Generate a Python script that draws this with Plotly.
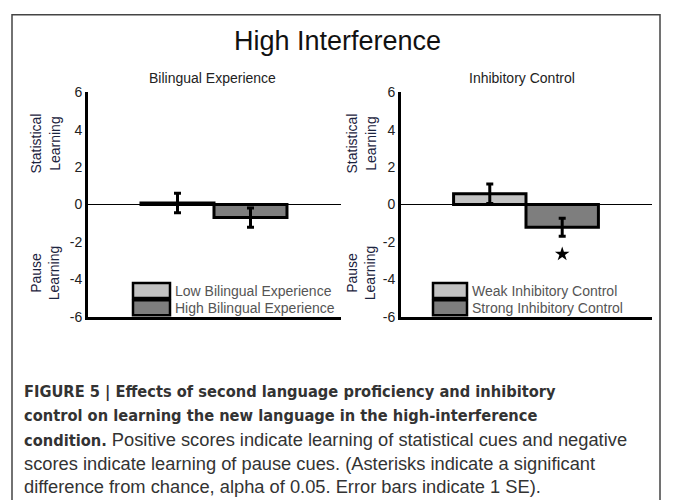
import plotly.graph_objects as go

# ---------------- data ----------------
panel_titles = ["Bilingual Experience", "Inhibitory Control"]
left_groups = ["Low Bilingual Experience", "High Bilingual Experience"]
left_values = [0.08, -0.70]
left_errors = [0.52, 0.52]
right_groups = ["Weak Inhibitory Control", "Strong Inhibitory Control"]
right_values = [0.58, -1.22]
right_errors = [0.52, 0.48]
right_significant = [False, True]
y_ticks = [-6, -4, -2, 0, 2, 4, 6]
y_tick_labels = ["-6", "-4", "-2", "0", "2", "4", "6"]
bar_colors = ["#c2c2c2", "#7e7e7e"]

W, H = 673, 500
def px(x):
    return x / W
def py(y):
    return 1 - y / H

fig = go.Figure()

# bars
for xa, ya, groups, vals, errs in [("x", "y", left_groups, left_values, left_errors),
                                   ("x2", "y2", right_groups, right_values, right_errors)]:
    for i, (g, v, e) in enumerate(zip(groups, vals, errs)):
        fig.add_trace(go.Bar(
            x=[i], y=[v], width=1, name=g, xaxis=xa, yaxis=ya,
            marker=dict(color=bar_colors[i], line=dict(color="black", width=3)),
            error_y=dict(type="data", array=[e], visible=True, color="black",
                         thickness=3, width=3.5),
            showlegend=False,
        ))

# significance star
star_x = [i for i, s in enumerate(right_significant) if s]
star_y = [right_values[i] - right_errors[i] - 0.95 for i in star_x]
fig.add_trace(go.Scatter(x=star_x, y=star_y, xaxis="x2", yaxis="y2", mode="markers",
                         marker=dict(symbol="star", size=11, color="black"),
                         showlegend=False, hoverinfo="skip"))

font = "Liberation Sans, Arial, sans-serif"
yax = dict(range=[-6, 6], tickvals=y_ticks, ticktext=y_tick_labels, ticks="", showgrid=False,
           showline=True, linecolor="black", linewidth=3,
           zeroline=True, zerolinecolor="black", zerolinewidth=1,
           tickfont=dict(size=14, color="#222", family=font), fixedrange=True)
xax = dict(range=[-1.226, 2.24], showticklabels=False, ticks="", showgrid=False,
           showline=True, linecolor="black", linewidth=3, zeroline=False,
           fixedrange=True)

fig.update_layout(
    width=W, height=H, margin=dict(l=0, r=0, t=0, b=0),
    paper_bgcolor="white", plot_bgcolor="white",
    xaxis=dict(domain=[px(88), px(341)], anchor="y", **xax),
    yaxis=dict(domain=[py(319), py(87)], anchor="x", **yax),
    xaxis2=dict(domain=[px(401), px(652)], anchor="y2", **xax),
    yaxis2=dict(domain=[py(319), py(87)], anchor="x2", **yax),
    barmode="overlay",
    font=dict(family=font),
)

def note(text, x, y, size, color, xanchor="center", family=font, **kw):
    return dict(text=text, x=px(x), y=py(y), xref="paper", yref="paper",
                xanchor=xanchor, yanchor="middle", showarrow=False,
                font=dict(size=size, color=color, family=family), **kw)

ann = []
ann.append(note("High Interference", 337, 34, 27, "#111"))
for t, cx in zip(panel_titles, [212, 522]):
    ann.append(note(t, cx, 72, 14, "#222"))
for cx in [45, 361]:
    ann.append(note("Statistical<br>Learning", cx, 140, 14, "#1c2440", textangle=-90))
    ann.append(note("Pause<br>Learning", cx, 274, 14, "#1c2440", textangle=-90))

shapes = []
for groups, bx0, bx1 in [(left_groups, 133, 170), (right_groups, 433, 467)]:
    for i, g in enumerate(groups):
        y0 = 284 + i * 18
        shapes.append(dict(type="rect", xref="paper", yref="paper",
                           x0=px(bx0), x1=px(bx1), y0=py(y0), y1=py(y0 + 15.5),
                           fillcolor=bar_colors[i], line=dict(color="black", width=2.5)))
        ann.append(note(g, bx1 + 3, y0 + 8, 14, "#555", xanchor="left"))

# outer frame (open at bottom)
shapes.append(dict(type="path", xref="paper", yref="paper",
                   path=f"M {px(12)} {py(520)} L {px(12)} {py(7)} L {px(660)} {py(7)} L {px(660)} {py(520)}",
                   line=dict(color="#444", width=1.5)))

# caption
bold_font = "DejaVu Sans Condensed, Liberation Sans, sans-serif"
reg_font = "Liberation Sans, Arial, sans-serif"
caption_lines = [
    ("<b>FIGURE 5 | Effects of second language proficiency and inhibitory</b>", ""),
    ("<b>control on learning the new language in the high-interference</b>", ""),
    ("<b>condition.</b>", " Positive scores indicate learning of statistical cues and negative"),
    ("", "scores indicate learning of pause cues. (Asterisks indicate a significant"),
    ("", "difference from chance, alpha of 0.05. Error bars indicate 1 SE)."),
]
for i, (b, r) in enumerate(caption_lines):
    txt = ""
    if b:
        txt += f"<span style='font-family:{bold_font};font-size:16.3px'>{b}</span>"
    if r:
        txt += r
    ann.append(note(txt, 22, 397 + i * 24.4, 18.3, "#333", xanchor="left", family=reg_font))

fig.update_layout(annotations=ann, shapes=shapes)
fig.write_html("out.html", config={"displayModeBar": False},
               post_script="document.body.style.margin='0';document.body.style.padding='0';document.documentElement.style.overflow='hidden';")
